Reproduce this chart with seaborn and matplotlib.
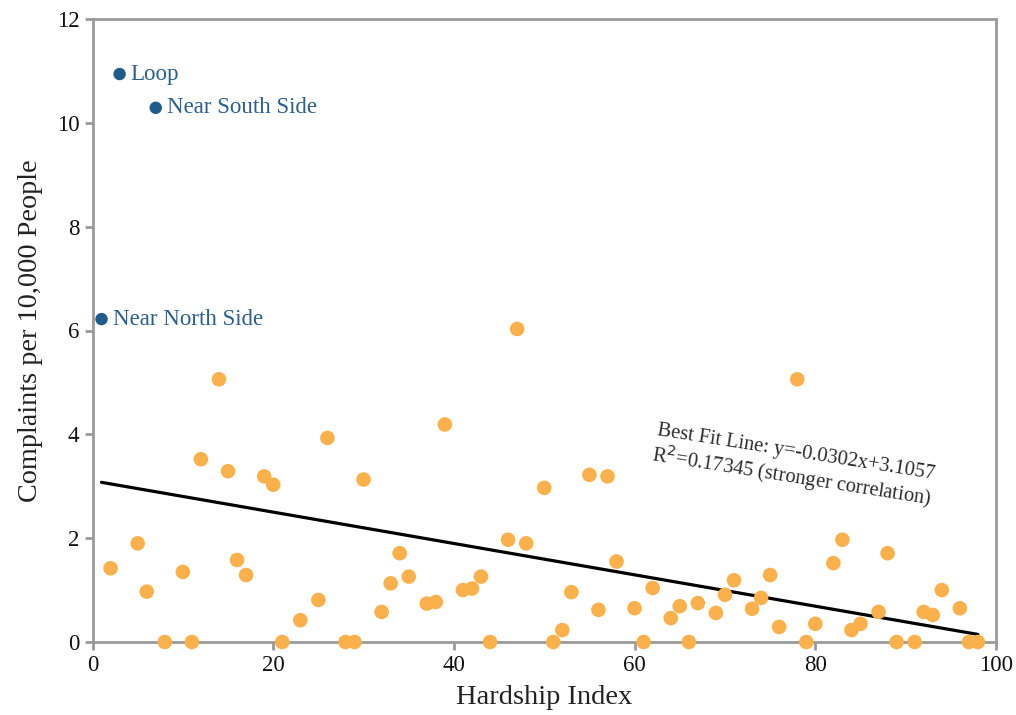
import matplotlib
matplotlib.use("Agg")
import matplotlib.pyplot as plt
import seaborn as sns
import pandas as pd

# Community areas: hardship index vs. complaints per 10,000 residents
hardship = [2, 5, 6, 8, 10, 11, 12, 14, 15, 16, 17, 19, 20, 21, 23, 25, 26, 28, 29, 30,
            32, 33, 34, 35, 37, 38, 39, 41, 42, 43, 44, 46, 47, 48, 50, 51, 52, 53, 55, 56,
            57, 58, 60, 61, 62, 64, 65, 66, 67, 69, 70, 71, 73, 74, 75, 76, 78, 79, 80, 82,
            83, 84, 85, 87, 88, 89, 91, 92, 93, 94, 96, 97, 98]
complaints = [1.42, 1.90, 0.97, 0.0, 1.35, 0.0, 3.52, 5.06, 3.29, 1.58, 1.29, 3.19, 3.03, 0.0,
              0.42, 0.81, 3.93, 0.0, 0.0, 3.13, 0.58, 1.13, 1.71, 1.26, 0.74, 0.77, 4.19, 1.00,
              1.03, 1.26, 0.0, 1.97, 6.03, 1.90, 2.97, 0.0, 0.23, 0.96, 3.22, 0.62, 3.19, 1.55,
              0.65, 0.0, 1.04, 0.46, 0.69, 0.0, 0.75, 0.56, 0.91, 1.19, 0.64, 0.85, 1.29, 0.29,
              5.06, 0.0, 0.35, 1.52, 1.97, 0.23, 0.35, 0.58, 1.71, 0.0, 0.0, 0.58, 0.52, 1.00,
              0.65, 0.0, 0.0]

# Highlighted outliers
outlier_names = ["Loop", "Near South Side", "Near North Side"]
outlier_hardship = [3, 7, 1]
outlier_complaints = [10.94, 10.29, 6.22]

# Least-squares fit reported in the annotation
fit_slope = -0.0302
fit_intercept = 3.1057
fit_r2 = 0.17345
fit_x = [1, 98]

ORANGE = "#FBB14B"
BLUE = "#1F5B8B"
FRAME_GRAY = "#9A9A9A"

sns.set_theme(style="white")
plt.rcParams["font.family"] = ["Liberation Serif", "DejaVu Serif"]

fig = plt.figure(figsize=(10.16, 7.15), dpi=100)
ax = fig.add_axes([92.5 / 1016, 1 - 642 / 715, (996 - 92.5) / 1016, (642 - 19) / 715])

main = pd.DataFrame({"hardship": hardship, "complaints": complaints})
outl = pd.DataFrame({"name": outlier_names, "hardship": outlier_hardship,
                     "complaints": outlier_complaints})

# Best-fit line
fit = pd.DataFrame({"x": fit_x, "y": [fit_slope * v + fit_intercept for v in fit_x]})
sns.lineplot(data=fit, x="x", y="y", color="black", linewidth=2.3, ax=ax, zorder=2)

sns.scatterplot(data=main, x="hardship", y="complaints", color=ORANGE, s=110,
                edgecolor="none", ax=ax, zorder=3, clip_on=False)
sns.scatterplot(data=outl, x="hardship", y="complaints", color=BLUE, s=80,
                edgecolor="none", ax=ax, zorder=3, clip_on=False)

for _, row in outl.iterrows():
    ax.annotate(row["name"], (row["hardship"], row["complaints"]), xytext=(8, 0),
                textcoords="offset points", va="center", ha="left",
                color="#2A5F8F", fontsize=16.5)

ax.text(77.6, 3.38,
        f"Best Fit Line: y={fit_slope}x+{fit_intercept}\nR$^2$={fit_r2} (stronger correlation)",
        rotation=-9, rotation_mode="anchor", ha="center", va="center",
        fontsize=14.8, color="#2b2b2b", linespacing=1.0)

ax.set_xlim(0, 100)
ax.set_ylim(0, 12)
ax.set_xticks([0, 20, 40, 60, 80, 100])
ax.set_yticks([0, 2, 4, 6, 8, 10, 12])
ax.set_xlabel("Hardship Index", fontsize=20.5, color="#222222", labelpad=6)
ax.set_ylabel("Complaints per 10,000 People", fontsize=20.3, color="#222222", labelpad=10)

for side in ["left", "bottom", "right", "top"]:
    ax.spines[side].set_visible(True)
    ax.spines[side].set_color(FRAME_GRAY)
    ax.spines[side].set_linewidth(2)
ax.tick_params(axis="both", which="major", length=6, width=2, color=FRAME_GRAY,
               labelsize=16.5, labelcolor="#111111", direction="out", bottom=True, left=True)

fig.savefig("out.png", dpi=100)
